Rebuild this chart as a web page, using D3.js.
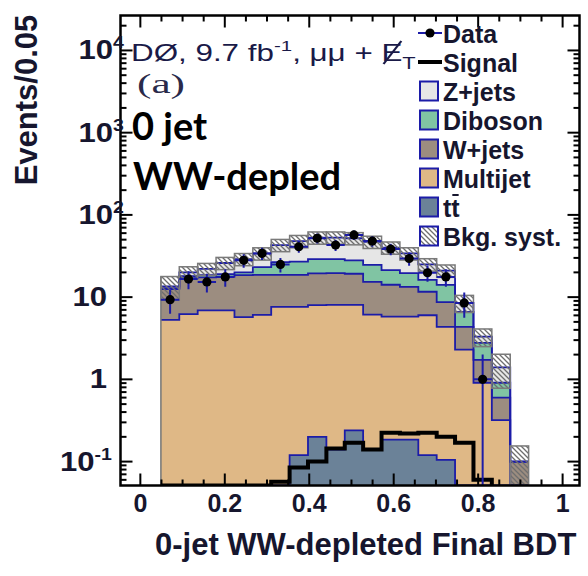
<!DOCTYPE html>
<html lang="en">
<head>
<meta charset="utf-8">
<title>0-jet WW-depleted Final BDT</title>
<script src="https://cdn.jsdelivr.net/npm/d3@7"></script>
<style>
body { margin: 0; background: #fff; }
svg text { font-family: "Liberation Sans", Arial, Helvetica, sans-serif; }
</style>
</head>
<body>
<div id="chart"></div>
<script>
// bin edges of the BDT histogram (20 bins)
var binEdges = [0.0487, 0.0922, 0.1358, 0.1793, 0.2229, 0.2664, 0.3099, 0.3535, 0.3970, 0.4406,
                0.4841, 0.5276, 0.5712, 0.6147, 0.6583, 0.7018, 0.7453, 0.7889, 0.8324, 0.8760, 0.9195];

// background components, events per bin (stacked bottom -> top)
var ttbar    = [0, 0, 0, 0, 0, 0, 0, 0.12, 0.2, 0.14, 0.24, 0.14, 0.185, 0.185, 0.12, 0.105, 0, 0, 0, 0];
var multijet = [5.3, 6.2, 6.9, 6.9, 5.7, 6.1, 7.6, 7.5, 7.8, 7.9, 7.8, 6.0, 5.6, 5.6, 5.9, 4.25, 2.3, 0.91, 0.32, 0];
var wjets    = [7.2, 10.8, 10.5, 10.9, 12.8, 12.5, 11.0, 11.0, 11.5, 11.5, 11.2, 9.2, 8.35, 7.55, 5.6, 4.35, 2.05, 0.82, 0.28, 0.1];
var diboson  = [0.4, 1.0, 1.1, 1.2, 1.5, 4.6, 8.1, 8.4, 9.5, 9.5, 8.8, 9.3, 7.2, 6.2, 4.6, 5.4, 2.25, 1.05, 0.31, 0];
var zjets    = [0.6, 2.0, 3.5, 7.0, 9.0, 10.8, 16.3, 21.0, 24.0, 24.0, 24.0, 22.4, 18.7, 14.5, 8.8, 6.9, 1.9, 0.52, 0.49, 0];
var bkgSyst  = [4.3, 3.4, 3.7, 4.4, 4.9, 5.8, 7.3, 8.2, 9.0, 9.0, 8.8, 8.0, 6.8, 5.8, 4.3, 3.6, 2.0, 0.8, 0.62, 0.055];

// signal (bins 0-17)
var signal = [0.03, 0.035, 0.04, 0.045, 0.048, 0.05, 0.057, 0.085, 0.10, 0.144, 0.17, 0.14, 0.225, 0.22, 0.225, 0.20, 0.17, 0.06];

// data and stat. errors (bins 0-17)
var dataVals = [9.3, 16.6, 15.3, 17.6, 28, 34, 25, 41, 52, 43, 57, 48, 38.5, 29.5, 19.8, 17.6, 8.5, 1.0];
var dataErrs = [3.0, 4.1, 3.9, 4.2, 5.3, 5.8, 5.0, 6.4, 7.2, 6.6, 7.5, 6.9, 6.2, 5.4, 4.4, 4.2, 2.9, 1.0];

var xTicks = [0, 0.2, 0.4, 0.6, 0.8, 1];
var xTickLabels = ["0", "0.2", "0.4", "0.6", "0.8", "1"];
var yTicks = [1e4, 1e3, 1e2, 10, 1, 0.1];
var yTickBase = ["10", "10", "10", "10", "1", "10"];
var yTickExp = ["4", "3", "2", "", "", "-1"];

var legendNames = ["Data", "Signal", "Z+jets", "Diboson", "W+jets", "Multijet", "tt", "Bkg. syst."];

var colors = {
  tt: "#6b8298", multijet: "#dfb886", wjets: "#9c8d80", diboson: "#80c4a3", zjets: "#e6e6e6"
};
var lineBlue = "#1c1ca8";

var svg = d3.select("#chart").append("svg")
  .attr("width", 588)
  .attr("height", 576);

var x = d3.scaleLinear().domain([-0.047, 1.04]).range([120.5, 579.5]);
var y = d3.scaleLog().domain([0.0512, 26600]).range([485.5, 15.5]);
var yMin = y.domain()[0];
function yc(v) { return y(Math.max(v, yMin)); }

// stretch a text (or group) horizontally about x0 so it is w wide
function stretch(sel, x0, w) {
  var bw = sel.node().getBBox().width;
  var s = w / bw;
  sel.attr("transform", "translate(" + x0 + ",0) scale(" + s + ",1) translate(" + (-x0) + ",0)");
}

var defs = svg.append("defs");
defs.append("clipPath").attr("id", "plotclip")
  .append("rect").attr("x", 120.5).attr("y", 15.5).attr("width", 459).attr("height", 470);

var pat = defs.append("pattern")
  .attr("id", "hatch")
  .attr("patternUnits", "userSpaceOnUse")
  .attr("width", 5).attr("height", 5);
pat.append("path")
  .attr("d", "M-1,-1 L6,6 M-1,4 L1,6 M4,-1 L6,1")
  .attr("stroke", "#6e6e6e")
  .attr("stroke-width", 1.3);

var rows = ttbar.map(function(t, i) {
  return {tt: t, multijet: multijet[i], wjets: wjets[i], diboson: diboson[i], zjets: zjets[i]};
});
var keys = ["tt", "multijet", "wjets", "diboson", "zjets"];
var series = d3.stack().keys(keys)(rows);

function stepPoints(vals) {
  var pts = [];
  vals.forEach(function(v, i) {
    pts.push([binEdges[i], v]);
    pts.push([binEdges[i + 1], v]);
  });
  return pts;
}

var area = d3.area()
  .x(function(d) { return x(d[0]); })
  .y0(y(yMin))
  .y1(function(d) { return yc(d[1]); });
var line = d3.line()
  .x(function(d) { return x(d[0]); })
  .y(function(d) { return yc(d[1]); });

var plot = svg.append("g").attr("clip-path", "url(#plotclip)");

//filled stack, biggest first
series.slice().reverse().forEach(function(s) {
  plot.append("path")
    .attr("d", area(stepPoints(s.map(function(d) { return d[1]; }))))
    .attr("fill", colors[s.key]);
});
// blue outlines
series.forEach(function(s) {
  plot.append("path")
    .attr("d", line(stepPoints(s.map(function(d) { return d[1]; }))))
    .attr("fill", "none")
    .attr("stroke", lineBlue)
    .attr("stroke-width", 1.8);
});

var total = series[series.length - 1].map(function(d) { return d[1]; });

// outer edge of the stack
plot.append("line")
  .attr("x1", x(binEdges[0])).attr("x2", x(binEdges[0]))
  .attr("y1", y(yMin)).attr("y2", yc(total[0] + bkgSyst[0]))
  .attr("stroke", "#777").attr("stroke-width", 1.5);

// syst band
plot.selectAll("rect.syst")
  .data(total).enter()
  .append("rect")
  .attr("class", "syst")
  .attr("x", function(d, i) { return x(binEdges[i]); })
  .attr("width", function(d, i) { return x(binEdges[i + 1]) - x(binEdges[i]); })
  .attr("y", function(d, i) { return yc(d + bkgSyst[i]); })
  .attr("height", function(d, i) { return yc(d - bkgSyst[i]) - yc(d + bkgSyst[i]); })
  .attr("fill", "url(#hatch)")
  .attr("stroke", "#7a7a7a")
  .attr("stroke-width", 1.5);

// signal line
var sigPts = [[binEdges[0], yMin]].concat(stepPoints(signal)).concat([[binEdges[signal.length], yMin]]);
plot.append("path")
  .attr("d", line(sigPts))
  .attr("fill", "none")
  .attr("stroke", "#000")
  .attr("stroke-width", 4);

// data points
var dg = plot.append("g");
dataVals.forEach(function(v, i) {
  var cx = x((binEdges[i] + binEdges[i + 1]) / 2);
  dg.append("line")
    .attr("x1", cx).attr("x2", cx)
    .attr("y1", yc(v - dataErrs[i])).attr("y2", y(v + dataErrs[i]))
    .attr("stroke", lineBlue).attr("stroke-width", 2);
  dg.append("line")
    .attr("x1", x(binEdges[i])).attr("x2", x(binEdges[i + 1]))
    .attr("y1", y(v)).attr("y2", y(v))
    .attr("stroke", lineBlue).attr("stroke-width", 2);
  dg.append("circle")
    .attr("cx", cx).attr("cy", y(v)).attr("r", 4.6)
    .attr("fill", "#000");
});

// frame and ticks
var axes = svg.append("g").attr("stroke", "#000").attr("stroke-width", 2);
d3.range(0, 1.0001, 0.05).forEach(function(v) {
  var major = Math.abs(v * 5 - Math.round(v * 5)) < 1e-6;
  var len = major ? 12 : 6;
  axes.append("line").attr("x1", x(v)).attr("x2", x(v)).attr("y1", 485.5).attr("y2", 485.5 - len);
  axes.append("line").attr("x1", x(v)).attr("x2", x(v)).attr("y1", 15.5).attr("y2", 15.5 + len);
});
d3.range(-2, 5).forEach(function(e) {
  d3.range(1, 10).forEach(function(m) {
    var v = m * Math.pow(10, e);
    if (v < yMin || v > y.domain()[1]) return;
    var len = m === 1 ? 12 : 6;
    axes.append("line").attr("x1", 120.5).attr("x2", 120.5 + len).attr("y1", y(v)).attr("y2", y(v));
    axes.append("line").attr("x1", 579.5).attr("x2", 579.5 - len).attr("y1", y(v)).attr("y2", y(v));
  });
});
svg.append("rect")
  .attr("x", 120.5).attr("y", 15.5).attr("width", 459).attr("height", 470)
  .attr("fill", "none").attr("stroke", "#000").attr("stroke-width", 2.5);

// tick labels
var textCol = "#16162e";
svg.selectAll("text.xt")
  .data(xTicks).enter()
  .append("text")
  .attr("class", "xt")
  .attr("x", function(d) { return x(d); })
  .attr("y", 512)
  .attr("text-anchor", "middle")
  .style("font-size", "25px").style("font-weight", "bold")
  .attr("fill", textCol)
  .text(function(d, i) { return xTickLabels[i]; });

yTicks.forEach(function(v, i) {
  var exp = yTickExp[i];
  var right = exp === "" ? 107 : (exp.length > 1 ? 112 : 124);
  var t = svg.append("text")
    .attr("x", right).attr("y", y(v) + 9)
    .attr("text-anchor", "end")
    .attr("transform", "translate(" + right + ",0) scale(1.15,1) translate(" + (-right) + ",0)")
    .style("font-size", "27px").style("font-weight", "bold")
    .attr("fill", textCol);
  t.append("tspan").text(yTickBase[i]);
  if (exp !== "") {
    t.append("tspan").attr("dy", -11).style("font-size", "17px").text(exp);
  }
});

// axis titles
svg.append("text")
  .attr("x", 155).attr("y", 555)
  .style("font-size", "31px").style("font-weight", "bold")
  .attr("fill", textCol)
  .text("0-jet WW-depleted Final BDT");
svg.append("text")
  .attr("transform", "translate(37,100) rotate(-90)")
  .attr("text-anchor", "middle")
  .style("font-size", "31px").style("font-weight", "bold")
  .attr("fill", textCol)
  .text("Events/0.05");

// experiment label
var titleCol = "#1a1a48";
var tg = svg.append("g");
function richText(g, x0, yBase, parts, col) {
  var cx = x0;
  var pos = [];
  parts.forEach(function(p) {
    var t = g.append("text")
      .attr("x", cx).attr("y", yBase + (p.dy || 0))
      .style("font-size", p.size + "px")
      .attr("fill", col)
      .text(p.t);
    var w = t.node().getComputedTextLength();
    pos.push([cx, w]);
    cx += w;
  });
  return pos;
}
var tp = richText(tg, 131, 61, [
  {t: "D\u00d8, 9.7 fb", size: 23},
  {t: "-1", size: 15, dy: -10},
  {t: ", \u03bc\u03bc +\u00a0", size: 23},
  {t: "E", size: 23},
  {t: "T", size: 16, dy: 8}
], titleCol);
var eX = tp[3][0], eW = tp[3][1];
tg.append("line")
  .attr("x1", eX + eW * 0.1).attr("y1", 64)
  .attr("x2", eX + eW * 0.95).attr("y2", 41)
  .attr("stroke", titleCol).attr("stroke-width", 1.6);
stretch(tg, 131, 285);

var aLab = svg.append("text")
  .attr("x", 137).attr("y", 93)
  .style("font-family", "'Liberation Serif', 'Times New Roman', serif")
  .style("font-size", "28px")
  .attr("fill", "#2a2a4a")
  .text("(a)");
stretch(aLab, 137, 48);

svg.append("text")
  .attr("x", 132).attr("y", 140)
  .style("font-family", "Lato, 'Open Sans', sans-serif")
  .style("font-size", "38px").style("font-weight", "bold")
  .attr("fill", "#000")
  .text("0 jet");
svg.append("text")
  .attr("x", 133).attr("y", 190)
  .style("font-family", "Lato, 'Open Sans', sans-serif")
  .style("font-size", "38px").style("font-weight", "bold")
  .attr("fill", "#000")
  .text("WW-depled");

// legend
var leg = svg.append("g");
var legFill = [null, null, colors.zjets, colors.diboson, colors.wjets, colors.multijet, colors.tt, "url(#hatch)"];
legendNames.forEach(function(name, i) {
  var cy = 33 + i * 29;
  if (i === 0) {
    leg.append("line").attr("x1", 418).attr("x2", 442).attr("y1", cy).attr("y2", cy)
      .attr("stroke", lineBlue).attr("stroke-width", 2);
    leg.append("circle").attr("cx", 430).attr("cy", cy).attr("r", 4.6).attr("fill", "#000");
  } else if (i === 1) {
    leg.append("line").attr("x1", 418).attr("x2", 442).attr("y1", cy).attr("y2", cy)
      .attr("stroke", "#000").attr("stroke-width", 4);
  } else {
    leg.append("rect").attr("x", 420).attr("y", cy - 9.5).attr("width", 18).attr("height", 19)
      .attr("fill", legFill[i]).attr("stroke", lineBlue).attr("stroke-width", 2);
  }
  var t = leg.append("text")
    .attr("x", 443).attr("y", cy + 10)
    .style("font-size", "25px").style("font-weight", "bold")
    .attr("fill", textCol)
    .text(name);
  if (name === "tt") {
    var w = t.node().getComputedTextLength();
    leg.append("line")
      .attr("x1", 443 + w / 2 + 1).attr("x2", 443 + w - 1)
      .attr("y1", cy - 12).attr("y2", cy - 12)
      .attr("stroke", textCol).attr("stroke-width", 2);
  }
});
</script>
</body>
</html>
